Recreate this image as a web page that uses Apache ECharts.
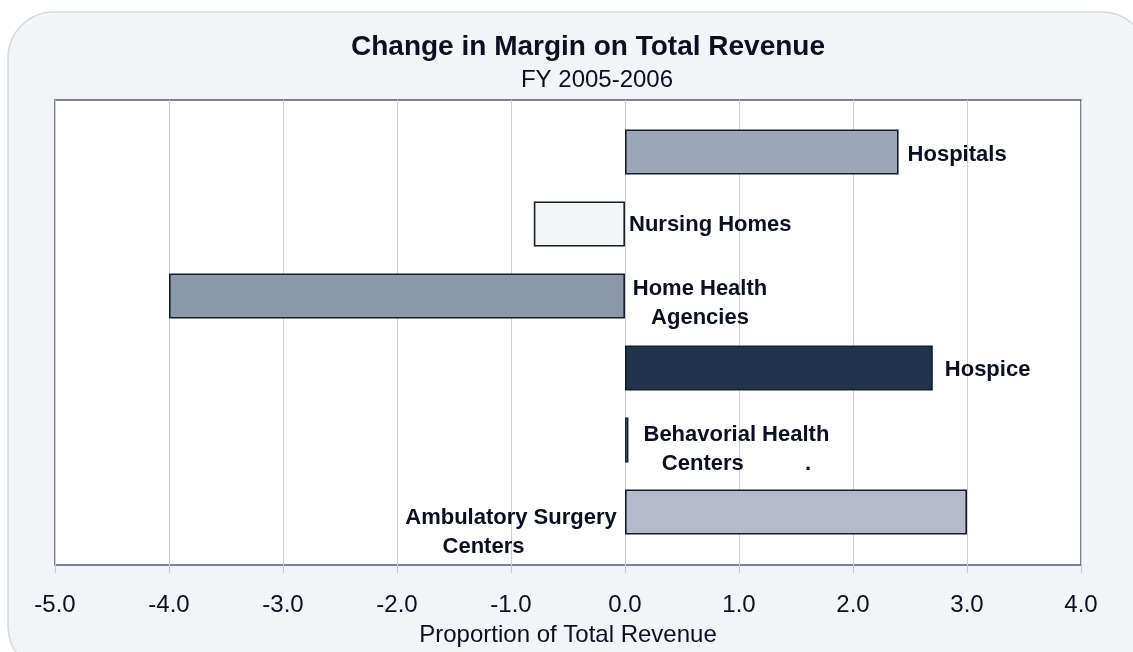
<!DOCTYPE html>
<html lang="en">
<head>
  <meta charset="UTF-8">
  <title>Change in Margin on Total Revenue</title>
  <style>
    html, body { margin: 0; padding: 0; background: #fff; }
    #chart { width: 1133px; height: 652px; }
  </style>
</head>
<body>
  <div id="chart"></div>
  <script src="https://cdn.jsdelivr.net/npm/echarts@6/dist/echarts.min.js"></script>
  <script>
    // data
    var categories = ['Hospitals', 'Nursing Homes', 'Home Health\nAgencies', 'Hospice',
      'Behavorial Health\nCenters          .', 'Ambulatory Surgery\nCenters         '];
    var values = [2.4, -0.8, -4.0, 2.7, 0.03, 3.0];
    var xTicks = [-5, -4, -3, -2, -1, 0, 1, 2, 3, 4];

    // bar fills
    var fills = ['#9ba7b7', '#f4f5f7', '#8b98a9', '#20344c', '#eef0f4', '#b4bac9'];
    // label placement for each bar
    var labelCfg = [
      { position: 'right', distance: 9, offset: [0, 3] },
      { position: 'right', distance: 4, offset: [0, 1] },
      { position: 'right', distance: 0, align: 'center', offset: [75, 7] },
      { position: 'right', distance: 12, offset: [0, 2] },
      { position: 'right', distance: 0, align: 'center', offset: [108, 9] },
      { position: 'left', distance: 0, align: 'center', offset: [-114, 20] }
    ];

    var chart = echarts.init(document.getElementById('chart'));

    var barData = values.map(function (v, i) {
      return {
        value: v,
        itemStyle: { color: fills[i] },
        label: labelCfg[i]
      };
    });

    var option = {
      backgroundColor: '#ffffff',
      animation: false,
      graphic: [{
        type: 'rect',
        z: -10,
        shape: { x: 8, y: 12, width: 1140, height: 660, r: 46 },
        style: { fill: '#f3f4f7', stroke: '#d3d7df', lineWidth: 1.5 }
      }],
      title: [{
        text: 'Change in Margin on Total Revenue',
        left: 583,
        textAlign: 'center',
        top: 28,
        textStyle: { fontFamily: 'Liberation Sans', fontSize: 28, fontWeight: 'bold', color: '#0b1020' }
      }, {
        text: 'FY 2005-2006',
        left: 592,
        textAlign: 'center',
        top: 63,
        textStyle: { fontFamily: 'Liberation Sans', fontSize: 24, fontWeight: 'normal', color: '#0b1020' }
      }],
      grid: [{
        left: 55, top: 100, width: 1026, height: 466,
        show: true,
        backgroundColor: '#ffffff',
        borderColor: '#4c5a76',
        borderWidth: 1.5
      }, {
        left: 55, top: 116, width: 1026, height: 432
      }],
      xAxis: [{
        gridIndex: 0,
        type: 'value',
        min: -5,
        max: 4,
        interval: 1,
        name: 'Proportion of Total Revenue',
        nameLocation: 'middle',
        nameGap: 58,
        nameTextStyle: { fontFamily: 'Liberation Sans', fontSize: 24, color: '#0b1020' },
        axisLine: { show: false },
        axisTick: { show: true, length: 8, lineStyle: { color: '#c3c9d6' } },
        axisLabel: {
          fontFamily: 'Liberation Sans',
          fontSize: 24,
          color: '#0b1020',
          margin: 28,
          formatter: function (v) { return xTicks.indexOf(v) >= 0 ? v.toFixed(1) : ''; }
        },
        splitLine: { show: true, lineStyle: { color: '#c9cedb', width: 1 } }
      }, {
        gridIndex: 1,
        type: 'value',
        min: -5,
        max: 4,
        show: false
      }],
      yAxis: [{
        gridIndex: 0,
        type: 'value',
        show: false
      }, {
        gridIndex: 1,
        type: 'category',
        inverse: true,
        data: categories,
        show: false
      }],
      series: [{
        type: 'bar',
        xAxisIndex: 1,
        yAxisIndex: 1,
        barWidth: 45,
        data: barData,
        itemStyle: { borderColor: '#151d2d', borderWidth: 1.6 },
        label: {
          show: true,
          formatter: function (p) { return categories[p.dataIndex]; },
          fontFamily: 'Liberation Sans',
          fontSize: 22,
          fontWeight: 'bold',
          lineHeight: 29,
          color: '#0b1020'
        }
      }]
    };

    chart.setOption(option);
  </script>
</body>
</html>
